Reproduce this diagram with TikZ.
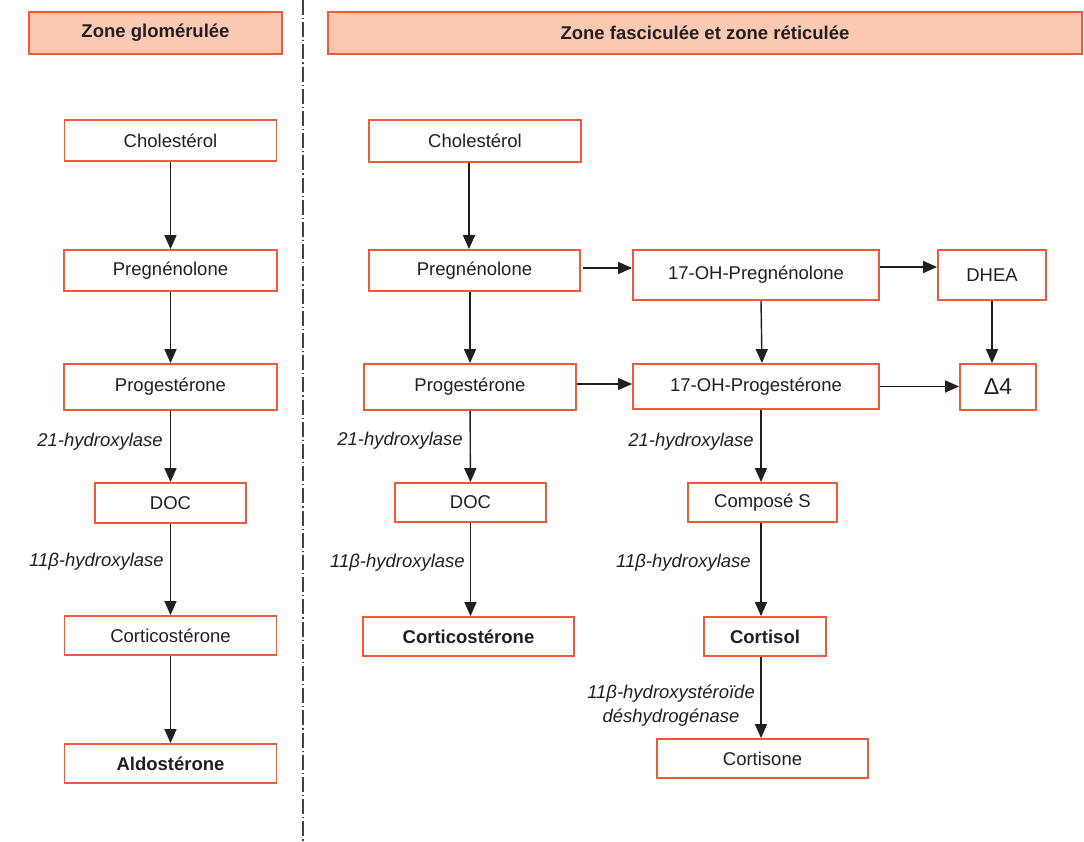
\documentclass[tikz,border=0pt]{standalone}
\usepackage{fontspec}
\setmainfont{Liberation Sans}
\usetikzlibrary{arrows.meta,calc}
\definecolor{boxred}{HTML}{EF5A3D}
\definecolor{hdrfill}{HTML}{FBC8B1}
\definecolor{ink}{HTML}{231F20}
\tikzset{
  base/.style={draw=boxred, line width=1.8pt, inner sep=0pt, text=ink,
    font=\fontsize{18.5}{22}\selectfont},
  stepbox/.style={base, fill=white},
  hdr/.style={base, fill=hdrfill, font=\fontsize{18.5}{22}\selectfont\bfseries},
  sz/.style 2 args={minimum width=#1pt, minimum height=#2pt},
  arr/.style={draw=ink, line width=1.4pt, -{Triangle[length=14pt,width=12pt]}},
  enz/.style={anchor=east, inner sep=0pt, text=ink, align=center,
    font=\fontsize{18.5}{24}\selectfont\itshape},
  sep/.style={draw=ink!85, line width=1.2pt, dash pattern=on 15pt off 3pt on 1.2pt off 3pt}
}
\begin{document}
\begin{tikzpicture}[x=1pt,y=-1pt]
\useasboundingbox (0,0) rectangle (1084,842);

% column divider
\coordinate (septop) at (303,0);
\coordinate (sepbot) at (303,842);
\draw[sep] (septop) -- (sepbot);

% headers
\node[hdr, sz={253}{42}] (hdrL) at (155.5,33) {Zone glomérulée};
\node[hdr, sz={754}{42}] (hdrR) at (705,33) {Zone fasciculée et zone réticulée};

% zone glomérulée
\node[stepbox, sz={212}{41}] (cholL) at (170.5,140.5) {Cholestérol};
\node[stepbox, sz={213}{41}] (pregL) at (170.5,270.5) {Pregnénolone};
\node[stepbox, sz={213}{46}] (progL) at (170.5,387) {Progestérone};
\node[stepbox, sz={151}{40}] (docL) at (170.5,503) {DOC};
\node[stepbox, sz={212}{39}] (corticoL) at (170.5,635.5) {Corticostérone};
\node[stepbox, sz={212}{39}] (aldoL) at (170.5,763.5) {\bfseries Aldostérone};

\draw[arr] (cholL) -- (pregL);
\draw[arr] (pregL) -- (progL);
\draw[arr] (progL) -- (docL);
\draw[arr] (docL) -- (corticoL);
\draw[arr] (corticoL) -- (aldoL);

\node[enz] (e21L) at (163,442) {21-hydroxylase};
\node[enz] (e11L) at (164,562) {11β-hydroxylase};

% zone fasciculée et réticulée: first column
\node[stepbox, sz={212}{42}] (cholR) at (475,141) {Cholestérol};
\node[stepbox, sz={211}{41}] (pregR) at (474.5,270.5) {Pregnénolone};
\node[stepbox, sz={212}{46}] (progR) at (470,387) {Progestérone};
\node[stepbox, sz={151}{39}] (docR) at (470.5,502.5) {DOC};
\node[stepbox, sz={211}{39}] (corticoR) at (468.5,636.5) {\bfseries Corticostérone};

\draw[arr] ([xshift=-6pt]cholR.south) -- ([xshift=-6pt]cholR.south |- pregR.north);
\draw[arr] ([xshift=-4.5pt]pregR.south) -- ([xshift=-4.5pt]pregR.south |- progR.north);
\draw[arr] (progR) -- (docR);
\draw[arr] (docR.south) -- (docR.south |- corticoR.north);

\node[enz] (e21R) at (463,441) {21-hydroxylase};
\node[enz] (e11R) at (465,563) {11β-hydroxylase};

% second column
\node[stepbox, sz={246}{50}] (ohpreg) at (756,275) {17-OH-Pregnénolone};
\node[stepbox, sz={246}{45}] (ohprog) at (756,386.5) {17-OH-Progestérone};
\node[stepbox, sz={149}{39}] (compS) at (762.5,502.5) {Composé S};
\node[stepbox, sz={122}{39}] (cortisol) at (765,636.5) {\bfseries Cortisol};
\node[stepbox, sz={211}{39}] (cortisone) at (762.5,758.5) {Cortisone};

% third column
\node[stepbox, sz={108}{50}] (dhea) at (992,275) {DHEA};
\node[stepbox, sz={76}{46}, font=\fontsize{23}{26}\selectfont] (delta) at (998,387) {Δ4};

% horizontal steps
\draw[arr] ([xshift=2pt,yshift=2.5pt]pregR.east) -- ([yshift=2.5pt]pregR.east -| ohpreg.west);
\draw[arr] ([yshift=8pt]ohpreg.east) -- ([yshift=8pt]ohpreg.east -| dhea.west);
\draw[arr] ([yshift=3pt]progR.east) -- ([yshift=3pt]progR.east -| ohprog.west);
\draw[arr] (ohprog.east) -- (ohprog.east -| delta.west);

% vertical steps
\draw[arr] ([xshift=5pt]ohpreg.south) -- ([xshift=6pt]ohprog.north);
\draw[arr] ([xshift=5pt]ohprog.south) -- ([xshift=5pt]ohprog.south |- compS.north);
\draw[arr] ([xshift=5pt]ohprog.south |- compS.south) -- ([xshift=5pt]ohprog.south |- cortisol.north);
\draw[arr] ([xshift=5pt]ohprog.south |- cortisol.south) -- ([xshift=5pt]ohprog.south |- cortisone.north);
\draw[arr] (dhea.south) -- (dhea.south |- delta.north);

\node[enz] (e21M) at (754,442) {21-hydroxylase};
\node[enz] (e11M) at (751,563) {11β-hydroxylase};
\node[enz] (e11HSD) at (755,706) {11β-hydroxystéroïde\\déshydrogénase};
\end{tikzpicture}
\end{document}
